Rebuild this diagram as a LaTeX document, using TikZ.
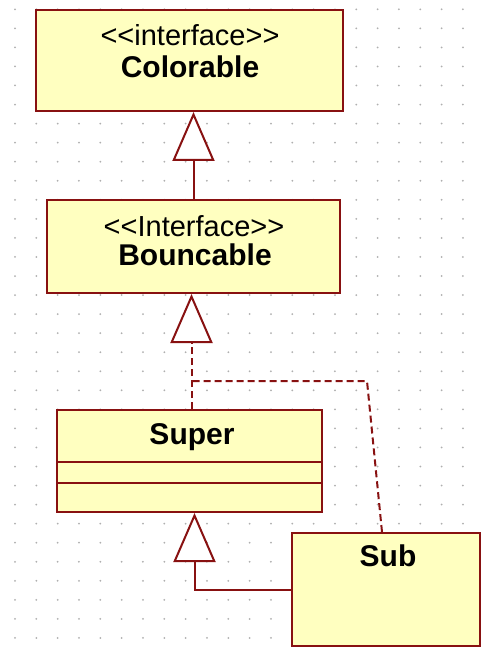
\documentclass[tikz,border=0pt]{standalone}
\usepackage{fontspec}
\setmainfont{Liberation Sans}
\usetikzlibrary{arrows.meta,calc}
\definecolor{umlline}{RGB}{136,17,17}
\definecolor{umlfill}{RGB}{255,255,192}
\definecolor{dotc}{RGB}{175,175,175}
\tikzset{
  umlbox/.style={draw=umlline, fill=umlfill, line width=2pt, inner sep=0pt},
  stereo/.style={anchor=base, inner sep=0pt, font=\fontsize{29}{34}\selectfont},
  cname/.style={anchor=base, inner sep=0pt, font=\fontsize{30}{36}\selectfont\bfseries},
  gen/.style={draw=umlline, line width=2pt, -{Triangle[open, fill=white, length=49pt, width=42pt, line width=2pt]}},
  real/.style={gen, dash pattern=on 7pt off 4pt},
  reline/.style={draw=umlline, line width=2pt, dash pattern=on 7pt off 4pt}
}
\begin{document}
\begin{tikzpicture}[x=1pt,y=-1pt]
\useasboundingbox (0,0) rectangle (481,655);
\fill[white] (0,0) rectangle (481,655);
\foreach \i in {0,...,21}{
  \foreach \j in {0,...,33}{
    \fill[dotc] (15+21.33*\i, 9.3+19.05*\j) circle (1pt);
  }
}
% boxes
\node[umlbox, minimum width=307pt, minimum height=101pt] (colorable) at (189.5,60.5) {};
\node[stereo] (colorableS) at (190,46) {<{}<interface>{}>};
\node[cname] (colorableN) at (190,78) {Colorable};

\node[umlbox, minimum width=293pt, minimum height=93pt] (bouncable) at (193.5,246.5) {};
\node[stereo] (bouncableS) at (194,236) {<{}<Interface>{}>};
\node[cname] (bouncableN) at (195,265) {Bouncable};

\node[umlbox, minimum width=265pt, minimum height=102pt] (super) at (189.5,461) {};
\draw[umlline, line width=2pt] (super.west |- 0,462) coordinate (d1) -- (super.east |- 0,462) coordinate (d2);
\draw[umlline, line width=2pt] (super.west |- 0,483) coordinate (d3) -- (super.east |- 0,483) coordinate (d4);
\node[cname] (superN) at (192,444) {Super};

\node[umlbox, minimum width=188pt, minimum height=113pt] (sub) at (386,589.5) {};
\node[cname] (subN) at (388,566.5) {Sub};

% connectors
\draw[gen] (bouncable.north) -- (bouncable.north |- colorable.south);
\coordinate (st) at ($(super.north)+(2,0)$);
\draw[real] (st) -- (st |- bouncable.south);
\coordinate (sb) at ($(sub.north west)+(91,0)$);
\coordinate (k) at (367,381);
\coordinate (j) at (191.5,381);
\draw[reline] (sb) -- (k) -- (j);
\coordinate (sv) at ($(super.south)+(5,0)$);
\draw[gen] (sub.west) -| (sv);
\end{tikzpicture}
\end{document}
